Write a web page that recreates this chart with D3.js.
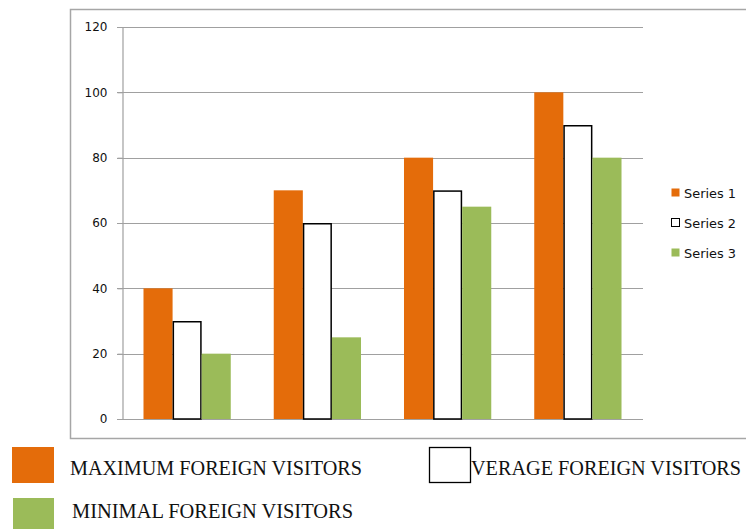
<!DOCTYPE html>
<html><head><meta charset="utf-8">
<script src="https://cdn.jsdelivr.net/npm/d3@7"></script>
<style>body{margin:0;background:#fff}svg{display:block}</style>
</head><body><div id="c"></div>
<script>
const categories = ["A", "B", "C", "D"];
const seriesNames = ["Series 1", "Series 2", "Series 3"];
const series1 = [40, 70, 80, 100];
const series2 = [30, 60, 70, 90];
const series3 = [20, 25, 65, 80];
const yTicks = [0, 20, 40, 60, 80, 100, 120];
const legendLabels = ["MAXIMUM FOREIGN VISITORS", "VERAGE FOREIGN VISITORS", "MINIMAL FOREIGN VISITORS"];

const W = 746, H = 529;
const colors = ["#E46C0A", "#FFFFFF", "#9BBB59"];
const svg = d3.select("#c").append("svg").attr("width", W).attr("height", H);

// outer chart box (right side extends beyond view)
svg.append("path").attr("d", "M760,9.5 H70.5 V438.5 H760")
  .attr("fill", "none").attr("stroke", "#A6A6A6").attr("stroke-width", 1.5);

const x0 = d3.scaleBand().domain(categories).range([122, 643]).paddingInner(0.33).paddingOuter(0.165);
const x1 = d3.scaleBand().domain(seriesNames).range([0, x0.bandwidth()]);
const y = d3.scaleLinear().domain([0, 120]).range([419, 27]);

// gridlines
svg.append("g").selectAll("line").data(yTicks).join("line")
  .attr("x1", 117).attr("x2", 643)
  .attr("y1", d => Math.round(y(d)) + 0.5).attr("y2", d => Math.round(y(d)) + 0.5)
  .attr("stroke", "#A0A0A0").attr("stroke-width", 1.2);

// y axis
const yAxis = svg.append("g").attr("transform", "translate(122.5,0)")
  .call(d3.axisLeft(y).tickValues(yTicks).tickSize(5).tickPadding(10));
yAxis.select(".domain").attr("stroke", "#A0A0A0").attr("stroke-width", 1.2);
yAxis.selectAll(".tick line").attr("stroke", "#A0A0A0");
yAxis.selectAll("text").attr("font-family", "DejaVu Sans, sans-serif").attr("font-size", 12).attr("fill", "#111");

// bars
const data = [series1, series2, series3];
const g = svg.append("g");
categories.forEach((c, i) => {
  data.forEach((s, k) => {
    const bx = x0(c) + x1(seriesNames[k]);
    const r = g.append("rect")
      .attr("x", bx).attr("y", y(s[i]))
      .attr("width", x1.bandwidth()).attr("height", y(0) - y(s[i]))
      .attr("fill", colors[k]);
    if (k === 1) {
      r.attr("x", bx + 0.75).attr("width", x1.bandwidth() - 1.5)
       .attr("y", y(s[i]) + 0.75).attr("height", y(0) - y(s[i]) - 0.75)
       .attr("stroke", "#000").attr("stroke-width", 1.5);
    }
  });
});

// right legend
const lg = svg.append("g");
seriesNames.forEach((n, k) => {
  const cy = 193 + k * 30;
  lg.append("rect").attr("x", 671.5).attr("y", cy - 4.5).attr("width", 8).attr("height", 8)
    .attr("fill", colors[k]).attr("stroke", k === 1 ? "#000" : "none").attr("stroke-width", 1);
  lg.append("text").attr("x", 684).attr("y", cy + 4.5).text(n)
    .attr("font-family", "DejaVu Sans, sans-serif").attr("font-size", 12)
    .attr("textLength", 52).attr("lengthAdjust", "spacingAndGlyphs").attr("fill", "#111");
});

// bottom legend
const bl = [
  {x: 12, y: 447, w: 42, h: 36, tx: 70, ty: 475, tl: 292},
  {x: 429.5, y: 447.5, w: 41, h: 35, tx: 471, ty: 475, tl: 270},
  {x: 13, y: 498, w: 41, h: 36, tx: 72, ty: 518, tl: 281}
];
bl.forEach((b, k) => {
  svg.append("rect").attr("x", b.x).attr("y", b.y).attr("width", b.w).attr("height", b.h)
    .attr("fill", colors[k]).attr("stroke", k === 1 ? "#000" : "none").attr("stroke-width", 1.3);
  svg.append("text").attr("x", b.tx).attr("y", b.ty).text(legendLabels[k])
    .attr("font-family", "Liberation Serif, Times New Roman, serif").attr("font-size", 20)
    .attr("textLength", b.tl).attr("lengthAdjust", "spacingAndGlyphs").attr("fill", "#111");
});
</script></body></html>
